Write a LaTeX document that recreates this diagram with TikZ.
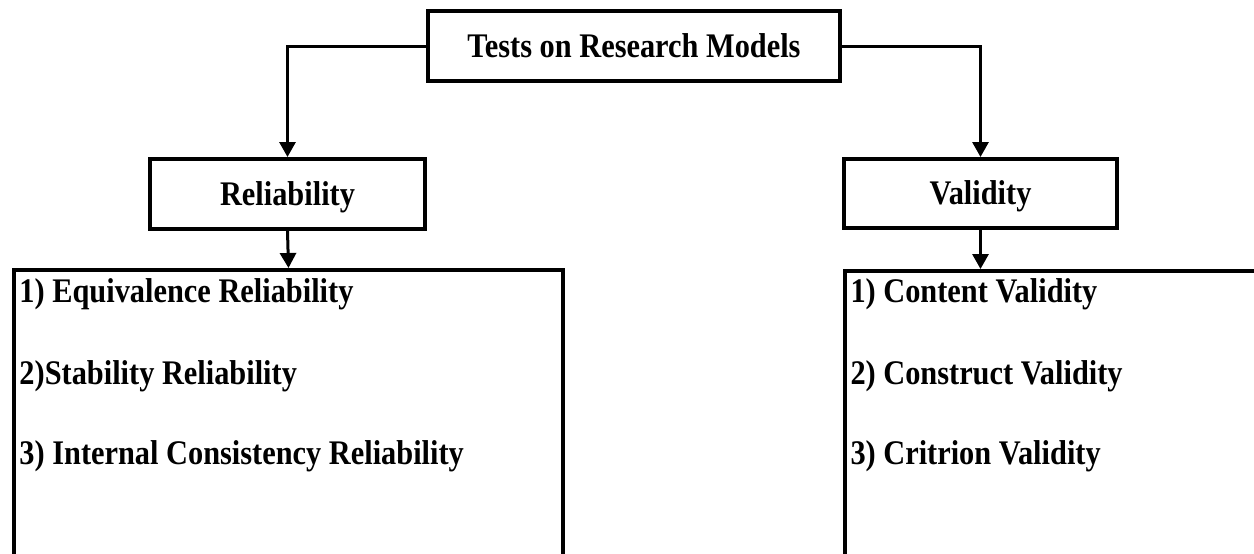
\documentclass[tikz,border=0pt]{standalone}
\usepackage{fontspec}
\setmainfont{Liberation Serif}[FakeStretch=0.88]
\usetikzlibrary{arrows.meta,positioning}
\tikzset{
  every picture/.style={color=black, line width=3pt},
  lbl/.style={font=\fontsize{34.5}{40}\selectfont\bfseries},
  box/.style={draw, line width=3.8pt, inner sep=0pt, lbl, align=center, text height=22pt, text depth=0pt},
  listbox/.style={draw, line width=3.8pt, inner sep=0pt},
  item/.style={lbl, anchor=base west, inner sep=0pt},
  flow/.style={-{Triangle[length=15pt,width=16pt]}, line width=3pt},
}

\begin{document}
\begin{tikzpicture}[x=1pt, y=-1pt]
  \useasboundingbox (0,0) rectangle (1254,554);
  \clip (0,0) rectangle (1254,554);
  % top and the two branches
  \node[box, minimum width=412.2pt, minimum height=70.2pt] (tests) at (634,46) {Tests on Research Models};
  \node[box, minimum width=275.2pt, minimum height=70.2pt] (rel) at (287.5,194) {Reliability};
  \node[box, minimum width=273.2pt, minimum height=69.2pt] (val) at (980.5,193.5) {Validity};
  % lists run past the bottom (and right) edge
  \node[listbox, minimum width=549.2pt, minimum height=400pt, anchor=north] (rlist) at (288.5,268) {};
  \node[listbox, minimum width=600pt, minimum height=400pt, anchor=north west] (vlist) at (843,269) {};
  \node[item] (r1) at (18,302) {1) Equivalence Reliability};
  \node[item] (r2) at (18,384) {2)Stability Reliability};
  \node[item] (r3) at (18,464) {3) Internal Consistency Reliability};
  \node[item] (v1) at (849,302) {1) Content Validity};
  \node[item] (v2) at (849,384) {2) Construct Validity};
  \node[item] (v3) at (849,464) {3) Critrion Validity};
  \draw[flow] (tests.west) -| (rel.north);
  \draw[flow] (tests.east) -| (val.north);
  \draw[flow] (rel.south) -- (rlist.north);
  \draw[flow] (val.south) -- (val.south |- vlist.north);
\end{tikzpicture}
\end{document}
